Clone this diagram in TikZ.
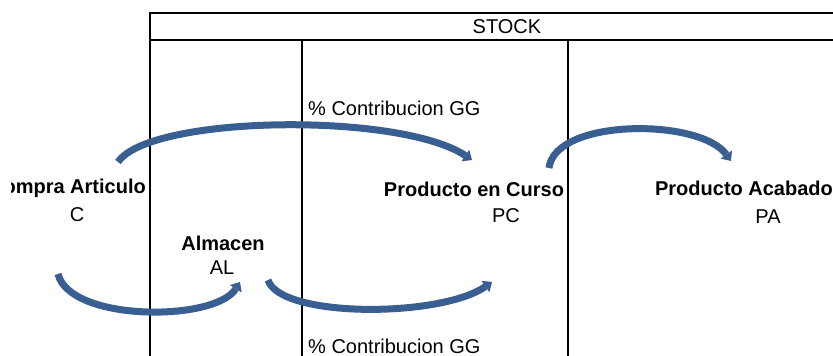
\documentclass[tikz,border=0pt]{standalone}
\usepackage{fontspec}
\setmainfont{Liberation Sans}
\usepackage{tikz}
\usetikzlibrary{arrows.meta}
\definecolor{flowblue}{RGB}{56,94,146}

\begin{document}
\begin{tikzpicture}[x=1pt,y=-1pt,
  grid/.style={line width=2pt},
  lbl/.style={font=\fontsize{20}{22}\selectfont,inner sep=0pt},
  title/.style={lbl,font=\fontsize{20}{22}\selectfont\bfseries},
  flow/.style={flowblue,line width=7pt,-{Triangle[length=8pt,width=14pt,line width=0pt]}}]
\useasboundingbox (0,0) rectangle (833,356);
% table frame
\draw[grid] (150,356) -- (150,13) -- (833,13);
\draw[grid] (150,40) -- (833,40);
\draw[grid] (302,40) -- (302,356);
\draw[grid] (568,40) -- (568,356);
\node[lbl] (stock) at (507,27) {STOCK};
% labels
\begin{scope}
\clip (11,0) rectangle (150,356);
\node[title,anchor=east] (compra) at (146,188) {Compra Articulo};
\end{scope}
\node[lbl] (c) at (77,215) {C};
\node[title] (alm) at (223,243) {Almacen};
\node[lbl] (al) at (222,268) {AL};
\node[title] (curso) at (474,189) {Producto en Curso};
\node[lbl] (pc) at (506,216) {PC};
\node[title] (acab) at (744,188) {Producto Acabado};
\node[lbl] (pa) at (768,217) {PA};
\node[lbl,anchor=west] (gg1) at (308,108) {\% Contribucion GG};
\node[lbl,anchor=west] (gg2) at (308,346) {\% Contribucion GG};
% arrow ends
\coordinate (c-up) at (118,162);
\coordinate (c-dn) at (58,274);
\coordinate (al-in) at (240,282);
\coordinate (al-out) at (268,280);
\coordinate (pc-in) at (472,160);
\coordinate (pc-in2) at (492,282);
\coordinate (pc-out) at (549,168);
\coordinate (pa-in) at (731,161);
% flows
\draw[flow] (c-up) .. controls (150,115) and (400,112) .. (pc-in);
\draw[flow] (c-dn) .. controls (70,322) and (215,322) .. (al-in);
\draw[flow] (al-out) .. controls (280,318) and (440,318) .. (pc-in2);
\draw[flow] (pc-out) .. controls (555,118) and (700,118) .. (pa-in);
\end{tikzpicture}
\end{document}
